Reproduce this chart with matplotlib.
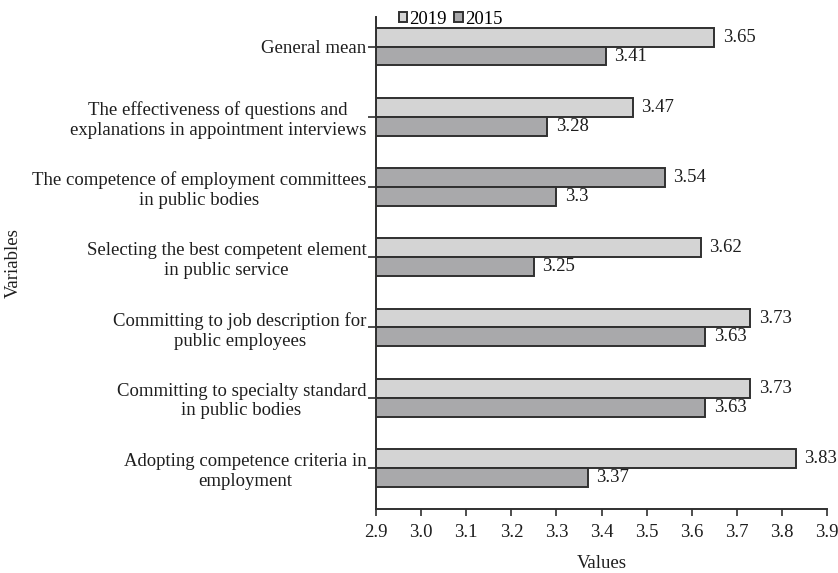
import matplotlib.pyplot as plt
import numpy as np

plt.rcParams['font.family'] = ['Liberation Serif', 'DejaVu Serif']

categories = [
    "Adopting competence criteria in\nemployment",
    "Committing to specialty standard\nin public bodies",
    "Committing to job description for\npublic employees",
    "Selecting the best competent element\nin public service",
    "The competence of employment committees\nin public bodies",
    "The effectiveness of questions and\nexplanations in appointment interviews",
    "General mean",
]
values_2019 = [3.83, 3.73, 3.73, 3.62, 3.54, 3.47, 3.65]
values_2015 = [3.37, 3.63, 3.63, 3.25, 3.30, 3.28, 3.41]
value_labels_2019 = ["3.83", "3.73", "3.73", "3.62", "3.54", "3.47", "3.65"]
value_labels_2015 = ["3.37", "3.63", "3.63", "3.25", "3.3", "3.28", "3.41"]
xticks = [2.9, 3.0, 3.1, 3.2, 3.3, 3.4, 3.5, 3.6, 3.7, 3.8, 3.9]

light = '#d4d4d4'
dark = '#a9a9ab'
edge = '#303030'
txt = '#1e1e1e'
fs = 13.5

fig = plt.figure(figsize=(8.38, 5.73), dpi=100)
ax = fig.add_axes([0.4487, 0.1117, 0.5383, 0.8586])

y = np.arange(len(categories))
h = 0.27
base = 2.9

# the source draws the committees 2019 bar in the darker shade
colors_2019 = [light] * len(categories)
colors_2019[4] = dark

b19 = ax.barh(y + h / 2, np.array(values_2019) - base, left=base, height=h,
              color=colors_2019, edgecolor=edge, linewidth=1.4, label='2019')
b15 = ax.barh(y - h / 2, np.array(values_2015) - base, left=base, height=h,
              color=dark, edgecolor=edge, linewidth=1.4, label='2015')

for yi, v, t in zip(y, values_2019, value_labels_2019):
    ax.annotate(t, (v, yi + h / 2), xytext=(6, 0), textcoords='offset points',
                va='center', ha='left', fontsize=fs, color=txt)
for yi, v, t in zip(y, values_2015, value_labels_2015):
    ax.annotate(t, (v, yi - h / 2), xytext=(6, 0), textcoords='offset points',
                va='center', ha='left', fontsize=fs, color=txt)

ax.set_xlim(2.9, 3.9)
ax.set_ylim(-0.584, 6.42)
ax.set_xticks(xticks)
ax.set_xticklabels([f"{t:.1f}" for t in xticks], fontsize=fs, color=txt)
ax.set_yticks(y)
ax.set_yticklabels(categories, fontsize=fs, color=txt, multialignment='center')

ax.spines['top'].set_visible(False)
ax.spines['right'].set_visible(False)
for s in ['left', 'bottom']:
    ax.spines[s].set_linewidth(1.4)
    ax.spines[s].set_color(edge)
ax.tick_params(axis='x', direction='out', length=5, width=1.2, color=edge, pad=6)
ax.tick_params(axis='y', direction='out', length=6, width=1.2, color=edge, pad=1)

ax.set_xlabel("Values", fontsize=fs, color=txt, labelpad=10)
ax.set_ylabel("Variables", fontsize=fs, color=txt)
ax.yaxis.set_label_coords((22 - 376) / 451, 0.5)

ax.legend(handles=[b19, b15], labels=['2019', '2015'], ncol=2, frameon=False,
          loc='center left', bbox_to_anchor=(0.05, 0.995), fontsize=fs,
          handlelength=0.45, handleheight=0.45, handletextpad=0.12,
          columnspacing=0.4, borderpad=0, borderaxespad=0)

fig.savefig('out.png', dpi=100)
